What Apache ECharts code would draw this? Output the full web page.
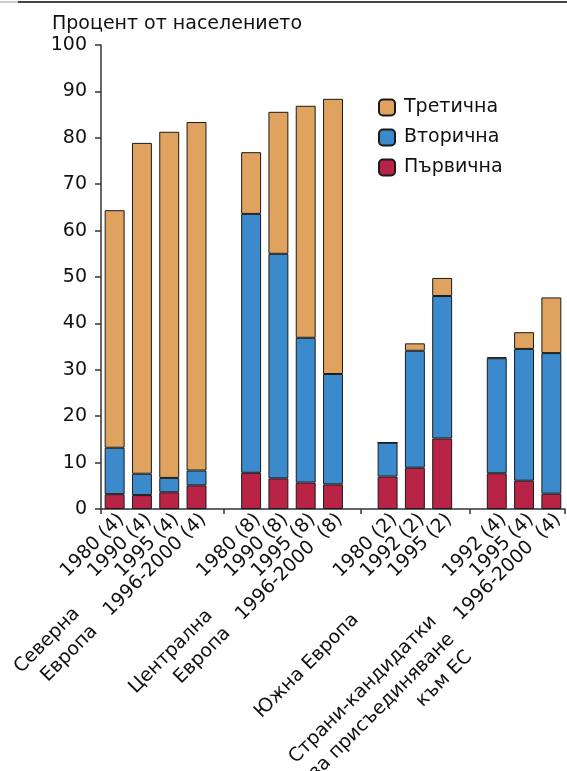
<!DOCTYPE html>
<html>
<head>
<meta charset="utf-8">
<script src="https://cdn.jsdelivr.net/npm/echarts@6/dist/echarts.min.js"></script>
<style>
html,body{margin:0;padding:0;background:#fff;}
#chart{width:567px;height:771px;}
</style>
</head>
<body>
<div id="chart"></div>
<script>
// Categories (empty strings are the gaps between groups)
var categories = ['1980 (4)','1990 (4)','1995 (4)','1996-2000 (4)','',
  '1980 (8)','1990 (8)','1995 (8)','1996-2000  (8)','',
  '1980 (2)','1992 (2)','1995 (2)','',
  '1992 (4)','1995 (4)','1996-2000  (4)'];
// Group labels
var groupLabels = ['Северна\nЕвропа','Централна\nЕвропа','Южна Европа','Страни-кандидатки\nза присъединяване\nкъм ЕС'];
// Series values (percent of population, segment heights)
var primary   = [3.2, 3.0, 3.6, 5.1, '-', 7.8, 6.6, 5.7, 5.3, '-', 7.0, 8.9, 15.2, '-', 7.7, 6.1, 3.3];
var secondary = [10.0, 4.6, 3.1, 3.2, '-', 55.8, 48.4, 31.2, 23.8, '-', 7.3, 25.2, 30.7, '-', 24.8, 28.4, 30.3];
var tertiary  = [51.2, 71.3, 74.6, 75.1, '-', 13.3, 30.6, 50.0, 59.3, '-', 0, 1.6, 3.9, '-', 0.2, 3.6, 12.0];
var seriesNames = ['Първична','Вторична','Третична'];
var yTicks = [0,10,20,30,40,50,60,70,80,90,100];

var FONT = 'DejaVu Sans';
var chart = echarts.init(document.getElementById('chart'), null, {renderer:'canvas'});

var groupAnchors = [[68,602],[201,604],[347,608],[425,610]];

var option = {
  animation: false,
  backgroundColor: '#fff',
  textStyle: {fontFamily: FONT},
  title: {
    text: 'Процент от населението',
    left: 52, top: 15, padding: 0,
    textStyle: {fontFamily: FONT, fontSize: 19, fontWeight: 'normal', color: '#111'}
  },
  legend: {
    orient: 'vertical',
    left: 378, top: 98, padding: 0,
    itemWidth: 16, itemHeight: 16, itemGap: 11,
    data: ['Третична','Вторична','Първична'],
    textStyle: {fontFamily: FONT, fontSize: 19, color: '#111', padding: [0,0,0,4]}
  },
  grid: {left: 101, right: 2, top: 45, bottom: 262, containLabel: false},
  xAxis: [{
    type: 'category',
    data: categories,
    axisLine: {lineStyle: {color: '#333', width: 1.5}},
    axisTick: {show: false},
    axisLabel: {
      interval: 0, rotate: 45, margin: 1, verticalAlign: 'top',
      fontFamily: FONT, fontSize: 19, color: '#111'
    }
  },{
    type: 'value', min: 0, max: 17, position: 'bottom',
    axisLine: {show: false},
    axisTick: {show: true, length: 5, customValues: [0, 4.5, 9.5, 13.5, 17], lineStyle: {color: '#333', width: 1.5}},
    axisLabel: {show: false},
    splitLine: {show: false}
  }],
  yAxis: {
    type: 'value', min: 0, max: 100, interval: 10,
    axisLine: {show: true, lineStyle: {color: '#333', width: 1.5}},
    axisTick: {show: true, length: 6, lineStyle: {color: '#333', width: 1.5}},
    axisLabel: {margin: 14, fontFamily: FONT, fontSize: 19, color: '#111',
      customValues: yTicks},
    splitLine: {show: false}
  },
  series: [
    {name: seriesNames[0], type: 'bar', stack: 's', data: primary, barCategoryGap: '27%',
      itemStyle: {color: '#B82346', borderColor: '#1a1a1a', borderWidth: 1}},
    {name: seriesNames[1], type: 'bar', stack: 's', data: secondary,
      itemStyle: {color: '#3B8BCC', borderColor: '#1a1a1a', borderWidth: 1}},
    {name: seriesNames[2], type: 'bar', stack: 's', data: tertiary,
      itemStyle: {color: '#E0A35F', borderColor: '#1a1a1a', borderWidth: 1}}
  ],
  graphic: [
    {type: 'line', shape: {x1: 18, y1: 2, x2: 567, y2: 2}, style: {stroke: '#444', lineWidth: 2}},
    {type: 'line', shape: {x1: 0, y1: 2, x2: 18, y2: 2}, style: {stroke: '#ccc', lineWidth: 2}}
  ].concat(groupLabels.map(function(t, i){
    return {type: 'text', x: groupAnchors[i][0], y: groupAnchors[i][1], rotation: Math.PI/4,
      style: {text: t, align: 'right', verticalAlign: 'top', font: '19px "DejaVu Sans"', fill: '#111', lineHeight: 25}};
  }))
};
chart.setOption(option);
</script>
</body>
</html>
